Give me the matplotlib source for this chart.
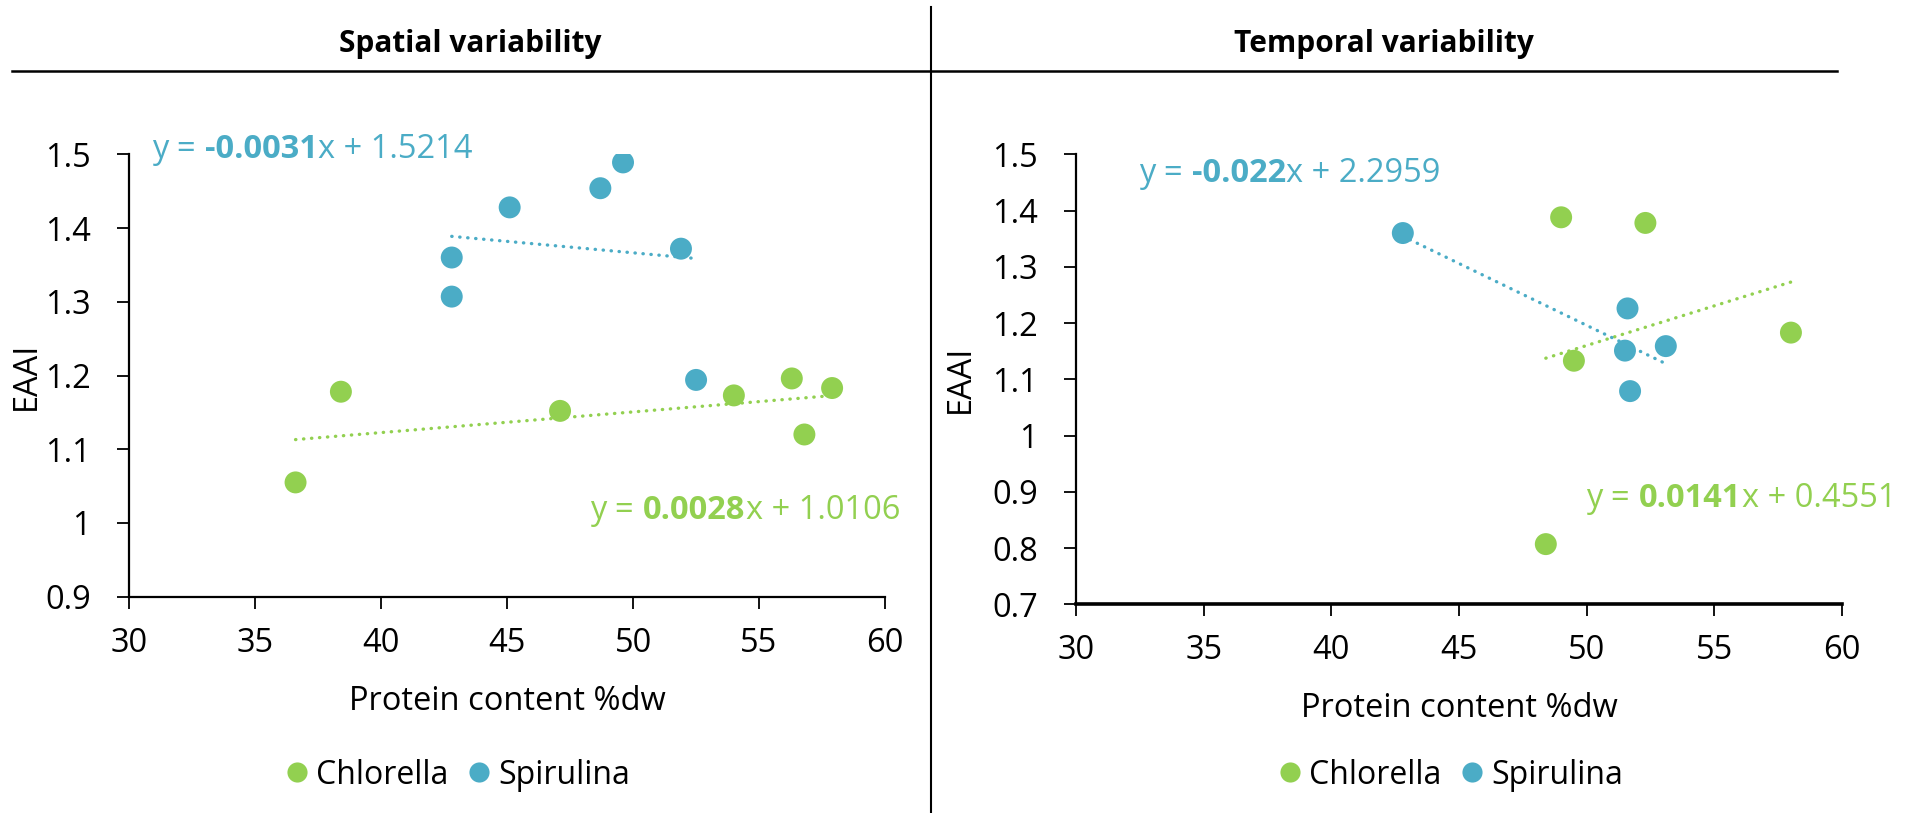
import matplotlib
matplotlib.use('Agg')
import matplotlib.pyplot as plt
import numpy as np
from matplotlib.ticker import FuncFormatter
from matplotlib.lines import Line2D

plt.rcParams['font.family'] = ['Open Sans', 'DejaVu Sans']

# Дані: просторова мінливість
sp_chl_x = [36.6, 38.4, 47.1, 54.0, 56.3, 56.8, 57.9]
sp_chl_y = [1.055, 1.178, 1.152, 1.173, 1.196, 1.120, 1.183]
sp_spi_x = [42.8, 42.8, 45.1, 48.7, 49.6, 51.9, 52.5]
sp_spi_y = [1.360, 1.307, 1.428, 1.454, 1.489, 1.372, 1.194]

# Дані: часова мінливість
tm_chl_x = [48.4, 49.0, 49.5, 52.3, 58.0]
tm_chl_y = [0.807, 1.388, 1.133, 1.378, 1.183]
tm_spi_x = [42.8, 51.5, 51.6, 51.7, 53.1]
tm_spi_y = [1.360, 1.151, 1.226, 1.079, 1.159]

# Коефіцієнти лінійних трендів (як на графіку)
sp_chl_fit = (0.0028, 1.0106)
sp_spi_fit = (-0.0031, 1.5214)
tm_chl_fit = (0.0141, 0.4551)
tm_spi_fit = (-0.022, 2.2959)

titles = ['Spatial variability', 'Temporal variability']
series_names = ['Chlorella', 'Spirulina']
x_ticks = [30, 35, 40, 45, 50, 55, 60]
sp_y_ticks = [0.9, 1.0, 1.1, 1.2, 1.3, 1.4, 1.5]
tm_y_ticks = [0.7, 0.8, 0.9, 1.0, 1.1, 1.2, 1.3, 1.4, 1.5]

GREEN = '#92D050'
BLUE = '#4BACC6'
FS = 23.5
W, H = 1914, 813

fig = plt.figure(figsize=(W / 100, H / 100), dpi=100)


def px_axes(x0, y0, x1, y1):
    return fig.add_axes([x0 / W, 1 - y1 / H, (x1 - x0) / W, (y1 - y0) / H])


def setup(ax, yticks, bottom_lw, ylabelpad):
    ax.set_xlim(30, 60)
    ax.set_ylim(yticks[0], yticks[-1])
    ax.set_xticks(x_ticks)
    ax.set_yticks(yticks)
    fmt = FuncFormatter(lambda v, p: '{:g}'.format(round(v, 2)))
    ax.xaxis.set_major_formatter(fmt)
    ax.yaxis.set_major_formatter(fmt)
    for s in ['top', 'right']:
        ax.spines[s].set_visible(False)
    ax.spines['left'].set_linewidth(1.6)
    ax.spines['bottom'].set_linewidth(bottom_lw)
    ax.tick_params(axis='x', length=8.5, width=1.3, pad=13, labelsize=FS)
    ax.tick_params(axis='y', length=8.5, width=1.3, pad=19, labelsize=FS)
    ax.set_xlabel('Protein content %dw', fontsize=FS, labelpad=18)
    ax.set_ylabel('EAAI', fontsize=FS, labelpad=ylabelpad)
    ax.patch.set_visible(False)


def draw_series(ax, x, y, fit, color):
    ax.scatter(x, y, s=250, color=color, edgecolors='none', zorder=2)
    xs = np.array([min(x), max(x)])
    ax.plot(xs, fit[0] * xs + fit[1], color=color, lw=2.4,
            linestyle=(0, (0.1, 2.3)), dash_capstyle='round', zorder=3)


def eq_text(ax, x_px, y_px, fit, color):
    slope, icpt = fit
    t = ax.text(x_px / W, 1 - y_px / H, 'y =', transform=fig.transFigure,
                color=color, fontsize=FS, ha='left', va='baseline')
    t2 = ax.annotate('{:g}'.format(slope), xy=(1, 0), xycoords=t,
                     xytext=(6.5, 0), textcoords='offset points',
                     color=color, fontsize=FS, fontweight='bold',
                     ha='left', va='bottom', annotation_clip=False)
    ax.annotate('x + {}'.format(icpt), xy=(1, 0), xycoords=t2,
                xytext=(0.5, 0), textcoords='offset points',
                color=color, fontsize=FS, ha='left', va='bottom',
                annotation_clip=False)


# Ліва панель
ax1 = px_axes(129.3, 154.3, 885, 596.7)
setup(ax1, sp_y_ticks, 1.6, 2)
draw_series(ax1, sp_chl_x, sp_chl_y, sp_chl_fit, GREEN)
draw_series(ax1, sp_spi_x, sp_spi_y, sp_spi_fit, BLUE)
eq_text(ax1, 152, 157.7, sp_spi_fit, BLUE)
eq_text(ax1, 590, 519, sp_chl_fit, GREEN)

# Права панель
ax2 = px_axes(1076, 154.3, 1842, 604.3)
setup(ax2, tm_y_ticks, 2.6, 11)
draw_series(ax2, tm_chl_x, tm_chl_y, tm_chl_fit, GREEN)
draw_series(ax2, tm_spi_x, tm_spi_y, tm_spi_fit, BLUE)
eq_text(ax2, 1139, 181.7, tm_spi_fit, BLUE)
eq_text(ax2, 1586, 506.7, tm_chl_fit, GREEN)

# Легенди
handles = [Line2D([], [], marker='o', ls='none', markersize=14.5,
                  markerfacecolor=c, markeredgecolor='none') for c in [GREEN, BLUE]]
for cx in [458, 1451]:
    fig.legend(handles, series_names, loc='center', ncol=2, frameon=False,
               bbox_to_anchor=(cx / W, 1 - 775 / H), fontsize=23,
               handlelength=0.7, handletextpad=0.25, columnspacing=0.6,
               borderpad=0)

# Заголовки і лінії розділення
fig.text(470 / W, 1 - 51.7 / H, titles[0], fontsize=21.5, fontweight='bold',
         ha='center', va='baseline')
fig.text(1384 / W, 1 - 51.7 / H, titles[1], fontsize=21.5, fontweight='bold',
         ha='center', va='baseline')
fig.add_artist(Line2D([12 / W, 1837 / W], [1 - 71 / H, 1 - 71 / H],
                      color='black', lw=1.8))
fig.add_artist(Line2D([931 / W, 931 / W], [1 - 7 / H, 0],
                      color='black', lw=1.5))

fig.savefig('out.png', dpi=100)
